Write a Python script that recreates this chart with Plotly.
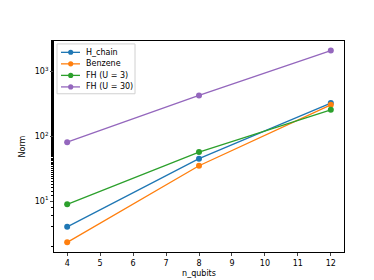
import plotly.graph_objects as go

n_qubits = [4, 8, 12]
h_chain = [4.0, 45, 325]
benzene = [2.3, 35, 305]
fh_u3 = [8.9, 57, 256]
fh_u30 = [81, 427, 2100]

series_names = ["H_chain", "Benzene", "FH (U = 3)", "FH (U = 30)"]
series_values = [h_chain, benzene, fh_u3, fh_u30]
colors = ["#1f77b4", "#ff7f0e", "#2ca02c", "#9467bd"]

x_ticks = list(range(4, 13))
y_tickvals = [10, 100, 1000]
y_ticktext = ["10<sup>1</sup>", "10<sup>2</sup>", "10<sup>3</sup>"]

W, H = 374, 280
ML, MR, MT, MB = 46, 38, 33, 31
PW, PH = W - ML - MR, H - MT - MB

def px(x):
    return (x - ML) / PW

def py(y):
    return (H - MB - y) / PH

fig = go.Figure()
for name, vals, c in zip(series_names, series_values, colors):
    fig.add_trace(go.Scatter(
        x=n_qubits, y=vals, name=name, mode="lines+markers",
        line=dict(color=c, width=1.3),
        marker=dict(color=c, size=6),
        showlegend=False,
    ))

font = dict(family="DejaVu Sans", size=8, color="black")

# manual legend (matplotlib-like compact layout)
shapes = [dict(type="rect", xref="paper", yref="paper",
               x0=px(49), x1=px(127), y0=py(87), y1=py(36),
               line=dict(color="#d0d0d0", width=1), fillcolor="rgba(255,255,255,0.8)",
               layer="above")]
annotations = []
for i, (name, c) in enumerate(zip(series_names, colors)):
    yc = 44.6 + 11.8 * i
    shapes.append(dict(type="line", xref="paper", yref="paper",
                       x0=px(53), x1=px(72), y0=py(yc), y1=py(yc),
                       line=dict(color=c, width=1.3), layer="above"))
    r = 2.6
    shapes.append(dict(type="circle", xref="paper", yref="paper",
                       x0=px(62.7 - r), x1=px(62.7 + r), y0=py(yc + r), y1=py(yc - r),
                       line=dict(color=c, width=0), fillcolor=c, layer="above"))
    annotations.append(dict(xref="paper", yref="paper", x=px(76), y=py(yc),
                            text=name, showarrow=False, xanchor="left", yanchor="middle",
                            font=font))

fig.update_layout(
    width=W, height=H,
    margin=dict(l=ML, r=MR, t=MT, b=MB),
    paper_bgcolor="white", plot_bgcolor="white",
    font=font,
    showlegend=False,
    shapes=shapes,
    annotations=annotations,
)
fig.update_xaxes(
    range=[3.6, 12.4], tickvals=x_ticks, ticks="outside", ticklen=3,
    tickwidth=0.8, showgrid=False, zeroline=False,
    showline=True, linecolor="black", linewidth=0.8, mirror=True,
    title=dict(text="n_qubits", font=font, standoff=3),
)
fig.update_yaxes(
    type="log", range=[0.213, 3.47], tickvals=y_tickvals, ticktext=y_ticktext,
    ticks="outside", ticklen=3, tickwidth=0.8, showgrid=False, zeroline=False,
    showline=True, linecolor="black", linewidth=0.8, mirror=True,
    minor=dict(ticks="outside", ticklen=2, tickwidth=0.6, tickcolor="black", showgrid=False),
    title=dict(text="Norm", font=font, standoff=7),
)
fig.write_html("out.html")
